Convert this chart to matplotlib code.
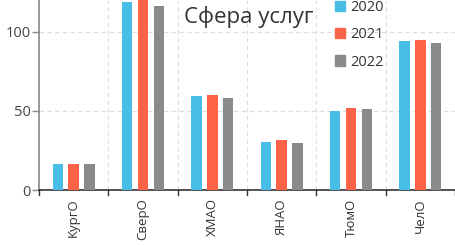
import matplotlib
matplotlib.use("Agg")
import matplotlib.pyplot as plt
import numpy as np
from matplotlib.patches import Patch

plt.rcParams['font.family'] = ['Open Sans', 'DejaVu Sans']

categories = ["КургО", "СверО", "ХМАО", "ЯНАО", "ТюмО", "ЧелО"]
years = ["2020", "2021", "2022"]
v2020 = [16.5, 119, 59.3, 30.2, 49.6, 94.3]
v2021 = [16.5, 120, 60.3, 31.4, 51.7, 94.7]
v2022 = [16.5, 116.5, 58.0, 29.5, 51.3, 92.8]
title = "Сфера услуг"
colors = ["#48BDE6", "#FC6347", "#8A8A8A"]

fig = plt.figure(figsize=(4.56, 2.45), dpi=100)
ax = fig.add_axes([39/456, 55/245, 416/456, 190/245])

x = np.arange(len(categories))
offs = [-0.23, 0.0, 0.23]
for vals, c, o in zip([v2020, v2021, v2022], colors, offs):
    ax.bar(x + o, vals, width=0.15, color=c, zorder=3)

ax.set_xlim(-0.5, len(categories) - 0.5)
ax.set_ylim(0, 120)
ax.set_yticks([0, 50, 100])
ax.set_xticks(x)
ax.set_xticklabels(categories, rotation=90, fontsize=9.5, color="#333333")
ax.tick_params(axis='x', length=0, pad=6)
ax.tick_params(axis='y', length=5, width=1, color="#888888", labelsize=10.5, labelcolor="#444444", pad=1)

for b in np.arange(0.5, len(categories) - 0.5, 1.0):
    ax.axvline(b, color="#DDDDDD", lw=0.8, ls=(0, (4, 3)), zorder=1)
for yv in [50, 100]:
    ax.axhline(yv, color="#DDDDDD", lw=0.8, ls=(0, (4, 3)), zorder=1)
for b in np.arange(-0.5, len(categories) + 0.5, 1.0):
    ax.plot([b, b], [0, -3], color="#333333", lw=1, clip_on=False, zorder=4)

for s in ["top", "right"]:
    ax.spines[s].set_visible(False)
ax.spines["left"].set_color("#888888")
ax.spines["left"].set_linewidth(1.2)
ax.spines["bottom"].set_color("#333333")
ax.spines["bottom"].set_linewidth(1.2)

ax.text(0.505, 0.91, title, transform=ax.transAxes, ha="center", va="center",
        fontsize=16, color="#333333")

handles = [Patch(color=c, label=y) for c, y in zip(colors, years)]
leg = ax.legend(handles=handles, loc="upper left", bbox_to_anchor=(0.68, 1.07),
                frameon=False, fontsize=10.5, handlelength=0.7, handleheight=0.7,
                handletextpad=0.35, labelspacing=0.85, labelcolor="#333333")

fig.savefig("out.png", dpi=100)
